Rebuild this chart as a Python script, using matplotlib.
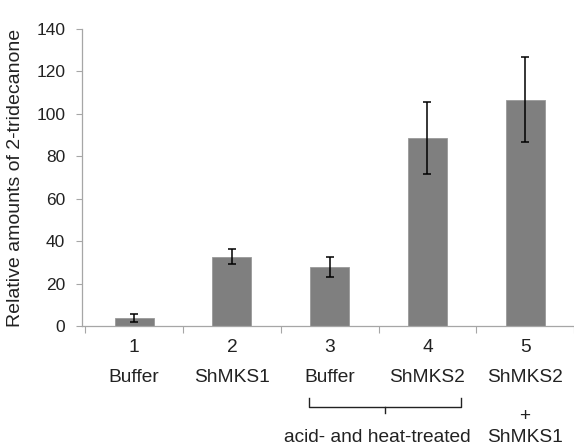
import numpy as np
import matplotlib
matplotlib.use("Agg")
import matplotlib.pyplot as plt

plt.rcParams['font.family'] = ['Liberation Sans', 'DejaVu Sans']

# data
groups = [1, 2, 3, 4, 5]
numbers = ["1", "2", "3", "4", "5"]
names = ["Buffer", "ShMKS1", "Buffer", "ShMKS2", "ShMKS2"]
values = [3.8, 32.7, 27.8, 88.5, 106.6]
errors = [1.7, 3.5, 4.7, 16.9, 20.1]
yticks = [0, 20, 40, 60, 80, 100, 120, 140]

fig = plt.figure(figsize=(5.74, 4.45), dpi=100)
# axes spans past the right edge, like the cropped original
ax = fig.add_axes([82 / 574, 119 / 445, (574 - 82) / 574, 297 / 445])

ax.bar(groups, values, width=0.4, color="#7f7f7f", edgecolor="#9a9a9a", linewidth=0.6, zorder=2)
ax.errorbar(groups, values, yerr=errors, fmt="none", ecolor="black",
            elinewidth=1.1, capsize=3, capthick=1.1, zorder=3)

ax.set_xlim(0.466, 5.42)
ax.set_ylim(0, 140)
ax.set_yticks(yticks)
ax.set_xticks(np.arange(0.5, 6.0, 1.0))
ax.set_xticklabels([])
ax.tick_params(axis="y", labelsize=12.5, length=4, width=0.8, color="#a6a6a6", pad=8,
               labelcolor="#222222")
ax.tick_params(axis="x", length=5, width=0.8, color="#a6a6a6")

for side in ["top", "right"]:
    ax.spines[side].set_visible(False)
for side in ["left", "bottom"]:
    ax.spines[side].set_color("#a6a6a6")
    ax.spines[side].set_linewidth(0.9)

ax.set_ylabel("Relative amounts of 2-tridecanone", fontsize=14, labelpad=9, color="#222222")

# category labels below the axis
tr = ax.get_xaxis_transform()
fs = 13.8
for g, n, name in zip(groups, numbers, names):
    ax.text(g, -0.074, n, transform=tr, ha="center", va="center", fontsize=fs, color="#222222")
    ax.text(g, -0.175, name, transform=tr, ha="center", va="center", fontsize=fs, color="#222222")
ax.text(5, -0.305, "+", transform=tr, ha="center", va="center", fontsize=fs, color="#222222")
ax.text(5, -0.377, "ShMKS1", transform=tr, ha="center", va="center", fontsize=fs, color="#222222")

# bracket for the treated group
bx0, bx1, bxc = 2.79, 4.345, 3.57
by_top, by_line, by_tip = -0.242, -0.273, -0.292
ax.plot([bx0, bx0, bx1, bx1], [by_top, by_line, by_line, by_top], transform=tr,
        color="#222222", lw=1.0, clip_on=False)
ax.plot([bxc, bxc], [by_line, by_tip], transform=tr, color="#222222", lw=1.0, clip_on=False)
ax.text(3.49, -0.377, "acid- and heat-treated", transform=tr, ha="center", va="center",
        fontsize=fs, color="#222222")

fig.savefig("out.png", dpi=100)
